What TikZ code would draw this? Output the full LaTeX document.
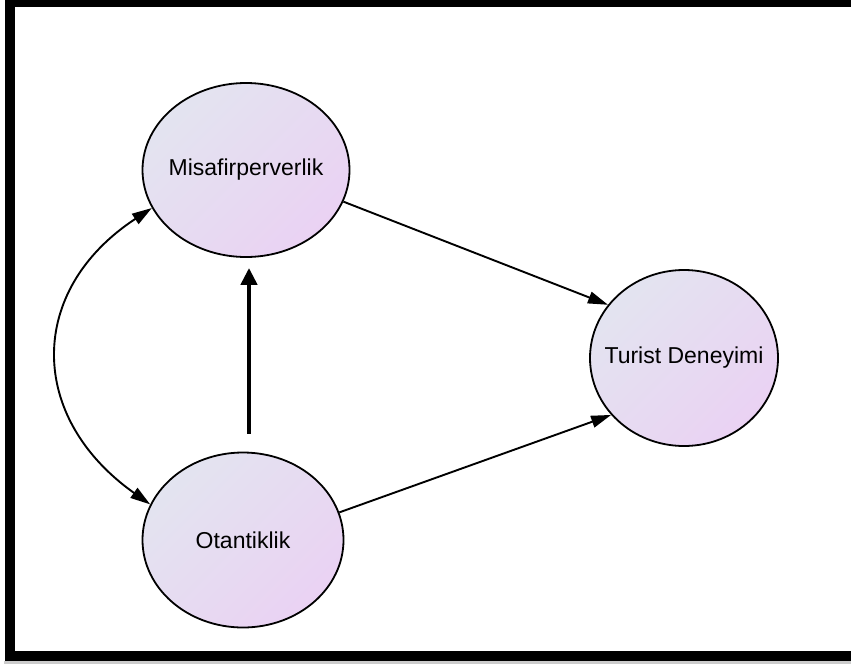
\documentclass[tikz,border=0pt]{standalone}
\usepackage{fontspec}
\setmainfont{Liberation Sans}
\usetikzlibrary{arrows.meta,shapes.geometric}
\definecolor{fillA}{HTML}{E3E4F0}
\definecolor{fillB}{HTML}{EAD2F3}
\newcommand{\ctext}[1]{\makebox[0pt]{#1}}
\begin{document}
\begin{tikzpicture}[x=1pt,y=-1pt,
  construct/.style={ellipse, draw=black, line width=1.8pt, inner sep=0pt,
    top color=fillA, bottom color=fillB, shading angle=45,
    font=\fontsize{23}{27}\selectfont},
  path/.style={line width=1.9pt, -{Triangle[length=20pt,width=12pt]}},
  both/.style={line width=1.9pt, {Triangle[length=20pt,width=12pt]}-{Triangle[length=20pt,width=12pt]}},
  heavy/.style={line width=4.6pt, -{Triangle[length=17pt,width=16pt]}}]
  \useasboundingbox (0,0) rectangle (851,664);
  % page frame with soft shadow underneath
  \fill[black!45] (7,659) rectangle (851,664);
  \fill[black!20] (4,661) rectangle (851,664);
  \draw[line width=10pt] (10,2) rectangle (860,656);

  % constructs
  \node[construct, minimum width=207pt, minimum height=174pt] (mis) at (246,170) {\ctext{Misafirperverlik}};
  \node[construct, minimum width=201pt, minimum height=175pt] (ota) at (243,540) {\ctext{Otantiklik}};
  \node[construct, minimum width=188pt, minimum height=176pt] (tur) at (684,358) {\ctext{Turist Deneyimi}};

  % paths
  \draw[path] (mis.-18.4) -- (tur.145.1);
  \draw[path] (ota.16.5) -- (tur.-142.6);
  \draw[heavy] ([xshift=6pt,yshift=18pt]ota.north) -- ([xshift=3pt,yshift=-10pt]mis.south);
  \draw[both] (mis.202.7) .. controls (27,290) and (27,417) .. (ota.159.4);
\end{tikzpicture}
\end{document}
